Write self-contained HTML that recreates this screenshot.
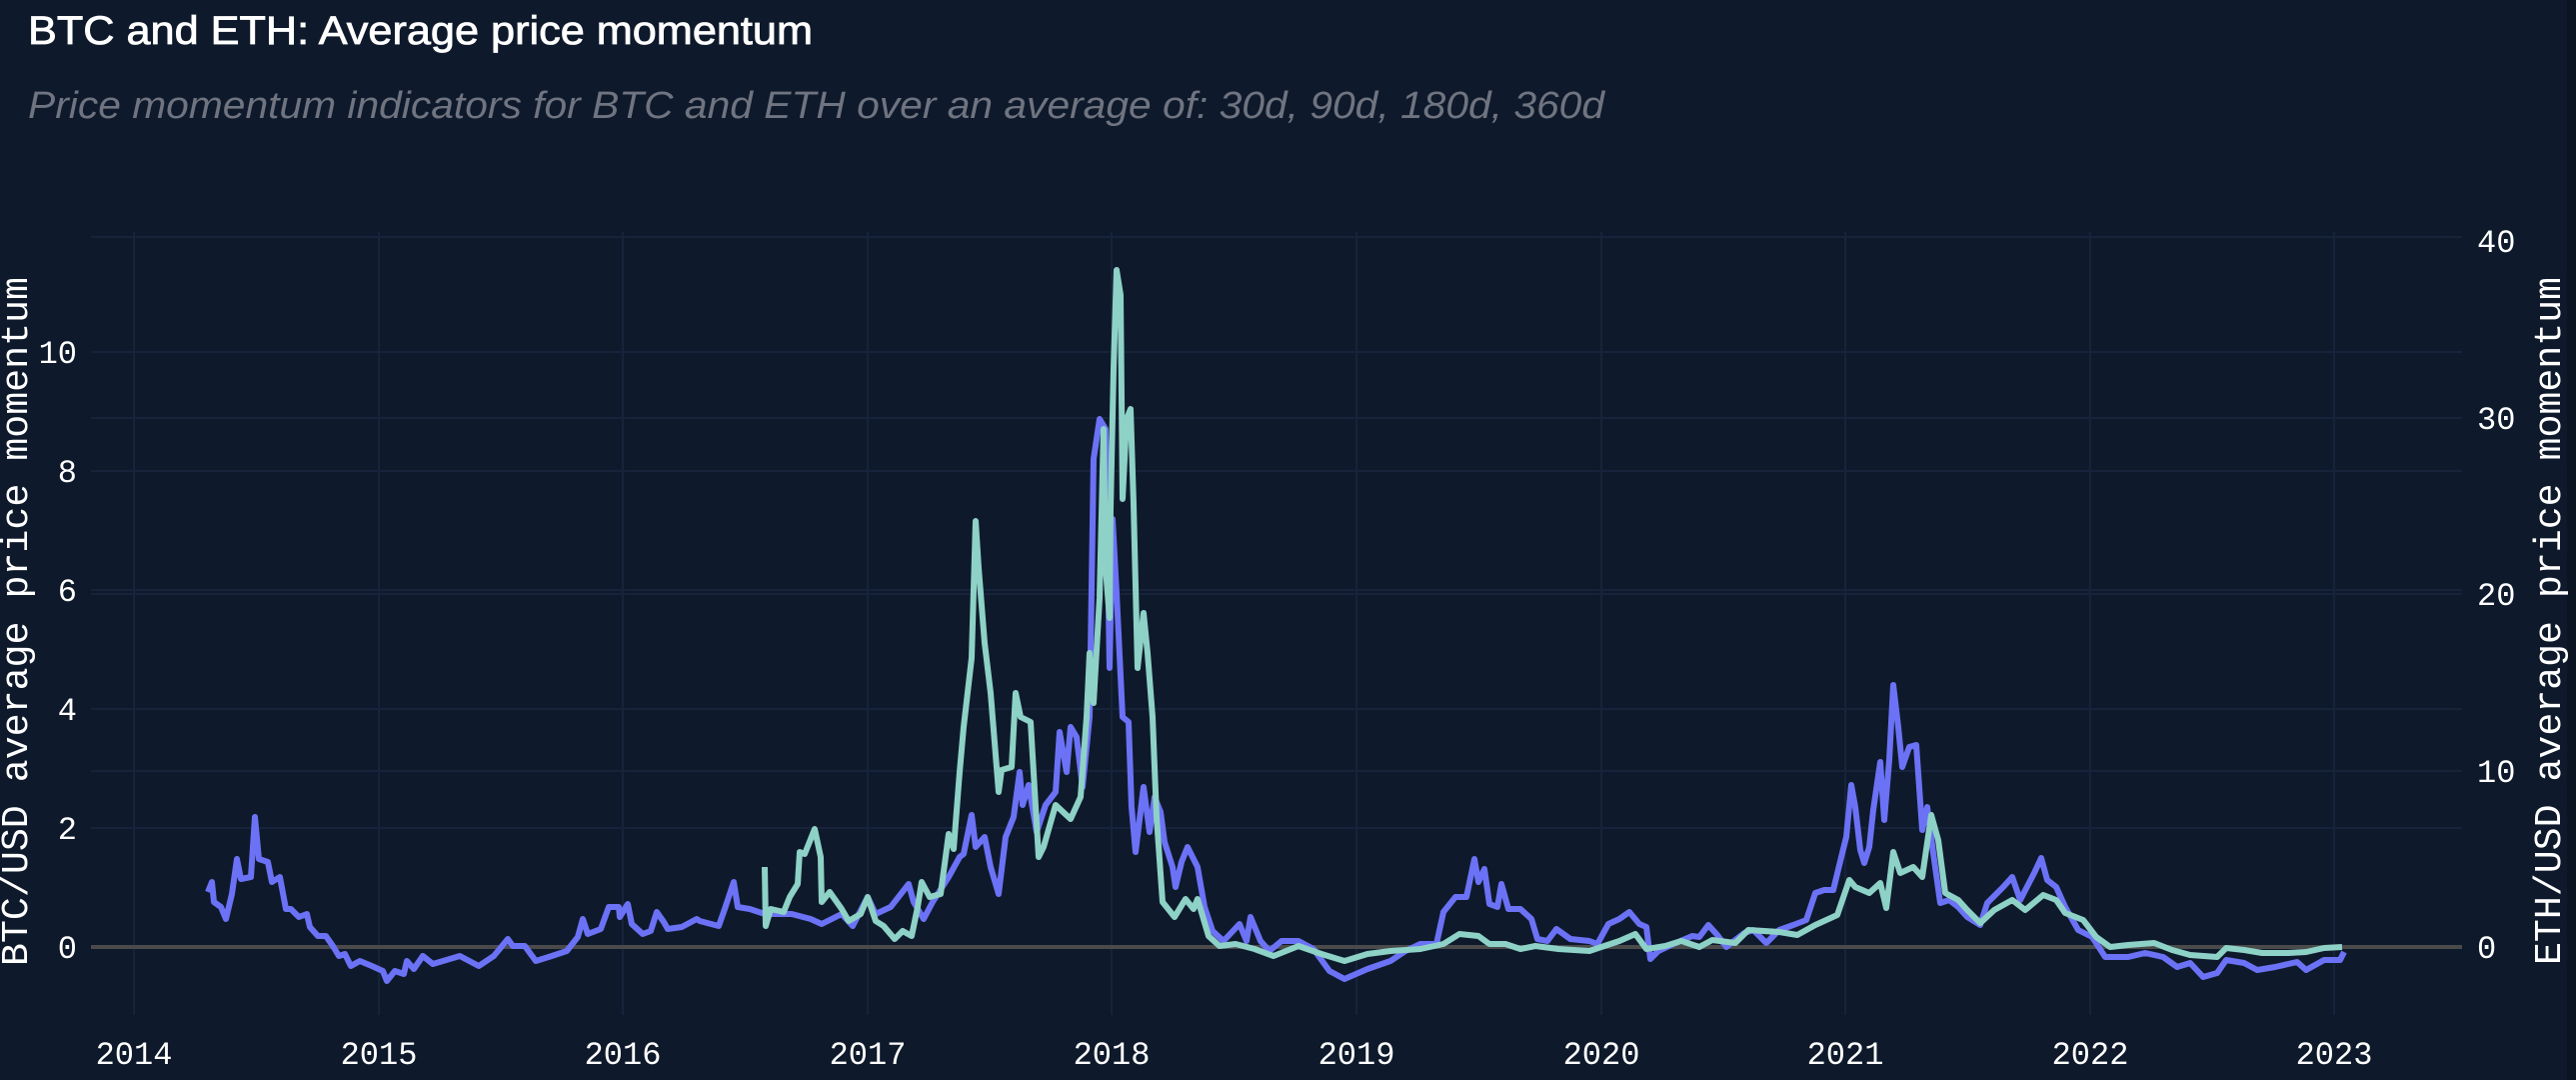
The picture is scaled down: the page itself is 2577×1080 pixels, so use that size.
<!DOCTYPE html>
<html><head><meta charset="utf-8"><style>
html,body{margin:0;padding:0;background:#0e1a2b;}
svg{display:block;}
</style></head><body>
<svg width="2577" height="1080" viewBox="0 0 2577 1080" xmlns="http://www.w3.org/2000/svg">
<rect width="2577" height="1080" fill="#0e1a2b"/>
<rect x="2568" y="0" width="9" height="1080" fill="#0b1522"/>
<text x="28" y="44" font-family="Liberation Sans, sans-serif" font-size="40" fill="#ffffff" stroke="#ffffff" stroke-width="0.8" textLength="785" lengthAdjust="spacingAndGlyphs">BTC and ETH: Average price momentum</text>
<text x="28" y="118" font-family="Liberation Sans, sans-serif" font-size="38" font-style="italic" fill="#6f7480" textLength="1577" lengthAdjust="spacingAndGlyphs">Price momentum indicators for BTC and ETH over an average of: 30d, 90d, 180d, 360d</text>
<g stroke="#16233a" stroke-width="2">
<line x1="134" y1="232" x2="134" y2="1015"/><line x1="379" y1="232" x2="379" y2="1015"/><line x1="623" y1="232" x2="623" y2="1015"/><line x1="868" y1="232" x2="868" y2="1015"/><line x1="1112" y1="232" x2="1112" y2="1015"/><line x1="1357" y1="232" x2="1357" y2="1015"/><line x1="1602" y1="232" x2="1602" y2="1015"/><line x1="1846" y1="232" x2="1846" y2="1015"/><line x1="2091" y1="232" x2="2091" y2="1015"/><line x1="2335" y1="232" x2="2335" y2="1015"/>
<line x1="91" y1="828" x2="2463" y2="828"/><line x1="91" y1="709" x2="2463" y2="709"/><line x1="91" y1="590" x2="2463" y2="590"/><line x1="91" y1="471" x2="2463" y2="471"/><line x1="91" y1="352" x2="2463" y2="352"/>
<line x1="91" y1="237" x2="2463" y2="237"/><line x1="91" y1="418" x2="2463" y2="418"/><line x1="91" y1="594" x2="2463" y2="594"/><line x1="91" y1="771" x2="2463" y2="771"/>
</g>
<line x1="91" y1="947" x2="2463" y2="947" stroke="#4a4a4a" stroke-width="4"/>
<g font-family="Liberation Mono, monospace" font-size="32" fill="#ffffff">
<g text-anchor="end">
<text x="77" y="958">0</text><text x="77" y="839">2</text><text x="77" y="720">4</text><text x="77" y="601">6</text><text x="77" y="482">8</text><text x="77" y="363">10</text>
</g>
<g text-anchor="start">
<text x="2478" y="958">0</text><text x="2478" y="782">10</text><text x="2478" y="605">20</text><text x="2478" y="429">30</text><text x="2478" y="252">40</text>
</g>
<g text-anchor="middle">
<text x="134" y="1064">2014</text><text x="379" y="1064">2015</text><text x="623" y="1064">2016</text><text x="868" y="1064">2017</text><text x="1112" y="1064">2018</text><text x="1357" y="1064">2019</text><text x="1602" y="1064">2020</text><text x="1846" y="1064">2021</text><text x="2091" y="1064">2022</text><text x="2335" y="1064">2023</text>
</g>
<text transform="translate(27,966) rotate(-90)" font-size="38" textLength="689" lengthAdjust="spacingAndGlyphs">BTC/USD average price momentum</text>
<text transform="translate(2561,965) rotate(-90)" font-size="38" textLength="688" lengthAdjust="spacingAndGlyphs">ETH/USD average price momentum</text>
</g>
<polyline fill="none" stroke="#6c72f5" stroke-width="6" stroke-linejoin="round" points="208,892 212,882 214,902 221,907 226,919 232,894 237,859 241,879 251,877 255,817 259,859 268,862 272,882 280,877 286,909 291,909 299,917 307,914 310,927 318,936 326,936 333,946 339,956 345,954 351,966 360,961 372,966 383,971 387,981 395,971 404,974 407,961 414,969 423,956 433,964 460,956 479,966 494,956 508,939 513,946 525,946 536,961 552,956 567,951 578,937 583,919 588,934 601,929 609,907 619,907 620,917 628,904 632,924 643,934 651,931 657,912 664,922 668,929 682,927 697,919 700,921 719,926 725,909 734,882 738,907 750,909 765,914 792,914 811,919 822,924 842,914 853,926 868,897 876,914 891,907 909,884 914,902 924,919 933,902 949,877 960,857 964,854 972,815 976,847 985,837 991,867 999,894 1006,837 1014,817 1020,772 1023,805 1029,785 1037,832 1046,805 1056,792 1060,732 1067,772 1071,727 1077,737 1083,787 1090,717 1094,459 1100,419 1106,429 1110,668 1113,519 1117,593 1123,717 1129,722 1132,807 1136,852 1144,787 1150,832 1155,797 1161,812 1165,842 1173,867 1176,887 1182,862 1188,847 1198,867 1205,907 1213,931 1224,941 1240,924 1247,941 1251,917 1261,941 1270,951 1282,941 1299,941 1314,949 1330,971 1345,979 1368,969 1391,961 1406,951 1421,944 1437,944 1444,912 1456,897 1467,897 1475,859 1479,882 1485,869 1490,904 1498,907 1502,884 1509,909 1521,909 1532,919 1538,939 1548,941 1557,929 1571,939 1590,941 1598,944 1609,924 1620,919 1630,912 1640,924 1647,927 1651,959 1659,951 1674,944 1693,936 1700,937 1709,925 1718,935 1727,947 1745,933 1754,930 1767,943 1780,930 1794,925 1807,920 1816,893 1825,890 1834,890 1843,853 1847,837 1852,785 1856,807 1861,850 1865,863 1870,847 1874,810 1881,762 1885,820 1890,760 1894,685 1899,727 1903,767 1910,747 1917,745 1923,830 1928,807 1934,853 1941,903 1950,900 1959,907 1968,917 1981,925 1988,903 2004,887 2013,877 2021,900 2035,873 2042,858 2048,880 2057,887 2066,907 2079,930 2093,937 2106,957 2129,957 2146,953 2164,957 2178,967 2191,963 2204,977 2218,973 2227,960 2245,963 2258,970 2276,967 2298,962 2307,970 2325,960 2341,960 2345,952"/>
<polyline fill="none" stroke="#8ed1c6" stroke-width="6" stroke-linejoin="round" points="765,867 766,926 771,909 784,912 790,897 798,884 800,852 805,854 815,829 821,857 822,902 830,892 842,909 849,921 861,914 868,897 876,921 884,926 895,939 903,931 912,936 918,907 922,882 930,897 941,894 949,834 954,849 960,772 964,727 972,658 976,521 979,568 985,643 991,693 999,792 1002,770 1012,767 1016,693 1021,717 1031,722 1039,857 1044,847 1056,805 1071,819 1081,797 1087,717 1090,653 1094,703 1100,598 1104,429 1106,568 1110,618 1111,509 1114,369 1117,270 1121,295 1123,499 1127,419 1131,409 1134,504 1138,668 1144,613 1148,653 1153,717 1157,817 1163,902 1175,917 1186,899 1194,909 1198,899 1209,936 1220,946 1236,944 1255,949 1274,956 1299,946 1322,954 1345,961 1368,954 1391,951 1421,949 1444,944 1460,934 1479,936 1490,944 1506,944 1521,949 1536,946 1559,949 1590,951 1605,946 1620,941 1636,934 1647,949 1666,946 1682,941 1700,947 1713,940 1736,943 1749,930 1780,932 1798,935 1816,925 1838,915 1850,880 1856,887 1870,893 1881,883 1887,908 1894,852 1901,873 1914,867 1923,877 1932,815 1939,840 1946,893 1959,900 1968,910 1981,923 1995,910 2013,900 2026,910 2044,895 2057,900 2066,913 2084,920 2097,937 2111,947 2129,945 2155,943 2173,950 2191,955 2218,957 2227,948 2245,950 2263,953 2289,953 2307,952 2325,948 2343,947"/>
</svg>
</body></html>
